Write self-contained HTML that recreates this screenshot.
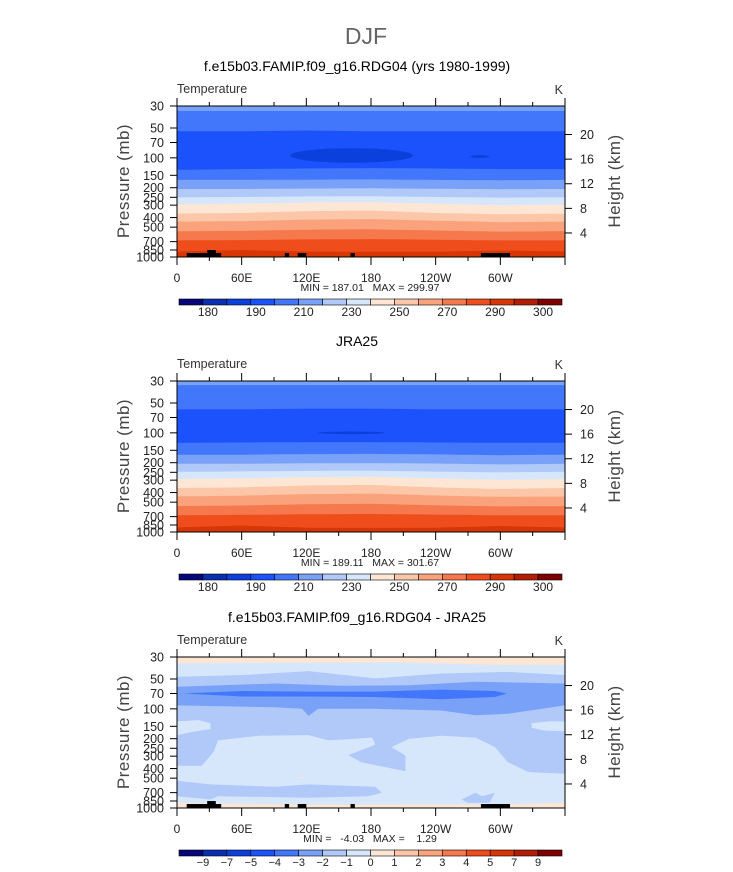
<!DOCTYPE html>
<html><head><meta charset="utf-8"><style>
html,body{margin:0;padding:0;background:#fff;}
svg{display:block;font-family:"Liberation Sans",sans-serif;}
text{white-space:pre;}
</style></head><body>
<svg id="fig" width="733" height="872" viewBox="0 0 733 872" xmlns="http://www.w3.org/2000/svg">
<text x="366" y="44" text-anchor="middle" font-size="23" fill="#666">DJF</text>
</svg>
<script>
// ---------- data ----------
const panelTitles = ["f.e15b03.FAMIP.f09_g16.RDG04 (yrs 1980-1999)", "JRA25", "f.e15b03.FAMIP.f09_g16.RDG04 - JRA25"];
const minMaxText = ["MIN = 187.01   MAX = 299.97", "MIN = 189.11   MAX = 301.67", "MIN =   -4.03   MAX =    1.29"];
const pressureTicks = [30,50,70,100,150,200,250,300,400,500,700,850,1000];
const heightTicks = [4,8,12,16,20];
const lonTicks = [0,30,60,90,120,150,180,210,240,270,300,330,360];
const lonLabels = {0:"0",60:"60E",120:"120E",180:"180",240:"120W",300:"60W"};
const absLabels = ["180","190","210","230","250","270","290","300"];
const absLabelIdx = [1,3,5,7,9,11,13,15];
const diffLabels = ["−9","−7","−5","−4","−3","−2","−1","0","1","2","3","4","5","7","9"];
const palette = ["#06067a","#0a2eb0","#0c40dc","#1b52fb","#4377fb","#7aa1f8","#b0c9f9","#d6e7fc","#fde6d4","#fcc6a8","#f9a27c","#f5794c","#f04d1c","#d83606","#b21e04","#7f0000"];
const bandLons = [0,60,120,180,240,300,360];
const bands1 = [
 [4,[33.7,33.7,33.7,33.7,33.7,33.7,33.7]],
 [3,[54,54,53,54,54,54,54]],
 [4,[132,130,128,127,128,130,130]],
 [5,[167,167,166,165,167,168,167]],
 [6,[206,206,204,203,205,207,206]],
 [7,[250,248,245,244,248,252,250]],
 [8,[295,290,282,280,290,300,295]],
 [9,[365,360,345,340,360,370,365]],
 [10,[440,435,420,415,430,445,440]],
 [11,[550,545,530,525,540,555,550]],
 [12,[680,675,665,660,670,680,680]],
 [13,[880,850,880,885,885,860,880]]
];
const bands2 = [
 [4,[33,33,33,33,33,33,33]],
 [3,[58,58,57,57,58,58,58]],
 [4,[126,125,124,124,125,126,126]],
 [5,[166,166,164,163,165,168,166]],
 [6,[205,205,203,202,204,208,205]],
 [7,[247,245,242,241,246,250,247]],
 [8,[292,288,280,278,288,298,292]],
 [9,[360,355,340,335,355,368,360]],
 [10,[438,430,415,410,428,442,438]],
 [11,[548,540,525,520,538,552,548]],
 [12,[678,672,662,658,668,678,678]],
 [13,[900,860,905,910,905,870,900]]
];
const blobs1 = [[162,57,80,112],[281,9,94,100]];
const blobs2 = [[162,31,97,103]];
const topo = [[9,41,912],[28,36,851],[100,104,912],[112,120,912],[161,165,912],[282,309,912]];
const diffShapes = [
 [8,[[0,30],[360,30],[360,36],[300,36],[200,34],[0,34.7]]],
 [6,[[0,47.5],[62,45.6],[122,41.6],[184,49.3],[245,44],[307,42.4],[360,45.6],[360,451],[326,434],[307,345],[295,243],[277,195],[245,187],[215,201],[199,243],[212,296],[212,426],[171,345],[159,293],[184,230],[181,195],[140,208],[122,184],[75,187],[38,208],[34,272],[23,375],[0,375]]],
 [7,[[0,134],[20,130],[31,140],[31,160],[15,170],[0,184]]],
 [7,[[329,140],[345,134],[360,134],[360,169],[340,165],[329,155]]],
 [5,[[0,60],[91,55.5],[153,58.6],[215,57.7],[277,53.4],[360,55.5],[360,92.4],[306,112.5],[277,116],[245,104],[184,100],[131,100],[122,117.7],[116,100],[91,96.2],[0,92.4]]],
 [4,[[6,70],[60,66],[122,67],[184,67],[245,64],[295,66],[306,70],[295,76],[245,80],[184,76],[122,75],[60,75]]],
 [6,[[0,531],[31,578],[91,611],[122,578],[184,611],[190,702],[177,760],[122,788],[38,760],[31,820],[0,760]]],
 [6,[[264,820],[277,702],[283,760],[295,702],[290,886],[270,886]]],
 [8,[[0,886],[60,905],[120,924],[200,924],[300,920],[360,886],[360,1000],[0,1000]]],
 [8,[[111,495],[116,488],[122,495],[116,502]]]
];
// ---------- layout ----------
const X0=177, X1=565, PH=151;
const tops=[106,381,657];
const NS="http://www.w3.org/2000/svg";
const svg=document.getElementById("fig");
function el(tag,attrs,parent){const e=document.createElementNS(NS,tag);for(const k in attrs)e.setAttribute(k,attrs[k]);(parent||svg).appendChild(e);return e;}
function xLon(l){return X0+l/360*(X1-X0);}
function yP(top,p){return top+Math.log(p/30)/Math.log(1000/30)*PH;}
function interp(arr,l){for(let i=0;i<bandLons.length-1;i++){if(l<=bandLons[i+1]){const t=(l-bandLons[i])/(bandLons[i+1]-bandLons[i]);return arr[i]+(arr[i+1]-arr[i])*t;}}return arr[arr.length-1];}

function drawPanel(k){
 const top=tops[k];
 const g=el("g",{});
 
 
 const clipId="clip"+k;
 const cp=el("clipPath",{id:clipId},g);
 el("rect",{x:X0,y:top,width:X1-X0,height:PH},cp);
 const plot=el("g",{"clip-path":"url(#"+clipId+")"},g);
 
 
 if(k<2){
  const bands=k==0?bands1:bands2;
  const bg=el("rect",{x:X0,y:top,width:X1-X0,height:PH,fill:palette[5]},plot);
  
  
  bands.forEach(b=>{
   let pts=[];
   for(let l=0;l<=360;l+=10){pts.push(xLon(l).toFixed(1)+","+yP(top,interp(b[1],l)).toFixed(1));}
   pts.push(X1+","+(top+PH+2));pts.push(X0+","+(top+PH+2));
   const pg=el("polygon",{points:pts.join(" "),fill:palette[b[0]]},plot);
   
   
  });
  (k==0?blobs1:blobs2).forEach(b=>{
   const y1=yP(top,b[2]),y2=yP(top,b[3]);
   const e=el("ellipse",{cx:xLon(b[0]),cy:(y1+y2)/2,rx:b[1]/360*(X1-X0),ry:(y2-y1)/2,fill:palette[2]},plot);
   
   
  });
 } else {
  const bg=el("rect",{x:X0,y:top,width:X1-X0,height:PH,fill:palette[7]},plot);
  
  
  diffShapes.forEach(s=>{
   const pts=s[1].map(q=>xLon(q[0]).toFixed(1)+","+yP(top,q[1]).toFixed(1)).join(" ");
   const pg=el("polygon",{points:pts,fill:palette[s[0]]},plot);
   
   
  });
 }
 if(k!=1){
  topo.forEach(t=>{
   const y=yP(top,t[2]);
   const r=el("rect",{x:xLon(t[0]),y:y,width:xLon(t[1])-xLon(t[0]),height:top+PH-y,fill:"#000"},plot);
   
   
  });
 }
 const fr=el("rect",{x:X0,y:top,width:X1-X0,height:PH,fill:"none",stroke:"#000","stroke-width":1},g);
 
 
 lonTicks.forEach(l=>{
  const x=xLon(l), maj=(l%60==0), len=maj?8:4;
  el("line",{x1:x,y1:top,x2:x,y2:top-len,stroke:"#000"},g);
  el("line",{x1:x,y1:top+PH,x2:x,y2:top+PH+len,stroke:"#000"},g);
  if(lonLabels[l]!==undefined){
   const t=el("text",{x:x,y:top+176,"text-anchor":"middle","font-size":12,fill:"#222"},g);
   t.textContent=lonLabels[l];
   
   
  }
 });
 pressureTicks.forEach(p=>{
  const y=yP(top,p);
  el("line",{x1:X0,y1:y,x2:X0-7,y2:y,stroke:"#000"},g);
  const t=el("text",{x:164,y:y+4.5,"text-anchor":"end","font-size":12.5,fill:"#222"},g);
  t.textContent=p;
  
  
 });
 heightTicks.forEach(h=>{
  const y=yP(top,1013.25*Math.exp(-h/7));
  el("line",{x1:X1,y1:y,x2:X1+7,y2:y,stroke:"#000"},g);
  const t=el("text",{x:580,y:y+4.5,"font-size":12.5,fill:"#222"},g);
  t.textContent=h;
  
  
 });
 const yl=el("text",{transform:"translate(129,"+(top+75)+") rotate(-90)","text-anchor":"middle","font-size":17,fill:"#444","letter-spacing":"0.5"},g);
 yl.textContent="Pressure (mb)";
 
 
 const yr=el("text",{transform:"translate(620,"+(top+75)+") rotate(-90)","text-anchor":"middle","font-size":17,fill:"#444","letter-spacing":"0.5"},g);
 yr.textContent="Height (km)";
 
 
 const lt=el("text",{x:X0,y:top-13,"font-size":12.5,fill:"#333"},g);
 lt.textContent="Temperature";
 
 
 const ku=el("text",{x:X1-2,y:top-12,"text-anchor":"end","font-size":12.5,fill:"#333"},g);
 ku.textContent="K";
 
 
 const pt=el("text",{x:357,y:top-35,"text-anchor":"middle","font-size":14,fill:"#000"},g);
 pt.textContent=panelTitles[k];
 
 
 const mm=el("text",{x:370,y:top+185,"text-anchor":"middle","font-size":10.5,fill:"#222"},g);
 mm.textContent=minMaxText[k];
 
 
 const cb=el("g",{},g);
 
 
 const cx0=179,cx1=562,bw=(cx1-cx0)/16,cy=top+193;
 palette.forEach((c,i)=>{
  const r=el("rect",{x:cx0+i*bw,y:cy,width:bw,height:6,fill:c,stroke:"#000","stroke-width":0.6},cb);
  
  
 });
 if(k<2){
  absLabels.forEach((s,i)=>{
   const t=el("text",{x:cx0+absLabelIdx[i]*bw+5,y:top+210,"text-anchor":"middle","font-size":12,fill:"#222"},cb);
   t.textContent=s;
   
   
  });
 } else {
  diffLabels.forEach((s,i)=>{
   const t=el("text",{x:cx0+(i+1)*bw,y:top+209,"text-anchor":"middle","font-size":11,fill:"#222"},cb);
   t.textContent=s;
   
   
  });
 }
}
[0,1,2].forEach(drawPanel);
</script>
</body></html>
